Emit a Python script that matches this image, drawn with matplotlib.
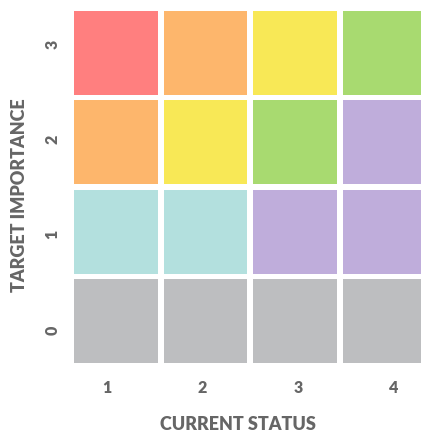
import numpy as np
import matplotlib.pyplot as plt

# status (x) vs importance (y) grid
current_status = [1, 2, 3, 4]
target_importance = [0, 1, 2, 3]

# cell colour class per row (importance 0..3), per column (status 1..4)
cell_class = [
    ['gray', 'gray', 'gray', 'gray'],
    ['teal', 'teal', 'purple', 'purple'],
    ['orange', 'yellow', 'green', 'purple'],
    ['red', 'orange', 'yellow', 'green'],
]

palette = {
    'red': '#FF7F7F',
    'orange': '#FDB66C',
    'yellow': '#F8E856',
    'green': '#A8DA70',
    'purple': '#BFADDB',
    'teal': '#B3E0DE',
    'gray': '#BDBEC0',
}

W, H = 421, 432
fig = plt.figure(figsize=(W / 100, H / 100), dpi=100)
# axes slightly wider than the figure on the right, like the original
ax = fig.add_axes([71.25 / W, (H - 365.75) / H, 358 / W, 357.5 / H])

gap = 0.062
for yi, imp in enumerate(target_importance):
    for xi, st in enumerate(current_status):
        ax.bar(st, 1 - gap, bottom=imp - 0.5 + gap / 2, width=1 - gap,
               color=palette[cell_class[yi][xi]], linewidth=0)

ax.set_xlim(0.5, 4.5)
ax.set_ylim(-0.5, 3.5)

# tick labels sit on a slightly wider band than the cells
spread = 95.5 / 89.5
xc = np.mean(current_status)
yc = np.mean(target_importance)
ax.set_xticks([xc + (v - xc) * spread for v in current_status])
ax.set_yticks([yc + (v - yc) * spread for v in target_importance])

txt_color = '#666666'
font = 'Lato'
tick_kw = dict(fontfamily=font, fontweight='heavy', fontsize=11.5, color=txt_color)
ax.set_xticklabels([str(v) for v in current_status], **tick_kw)
ax.set_yticklabels([str(v) for v in target_importance], rotation=90,
                   va='center', **tick_kw)
ax.tick_params(length=0)
ax.tick_params(axis='x', pad=10)
ax.tick_params(axis='y', pad=8)

for s in ax.spines.values():
    s.set_visible(False)

fig.text(238 / W, 1 - 425 / H, 'CURRENT STATUS', ha='center', va='center',
         fontsize=13, fontweight='heavy', color=txt_color, family=font)
fig.text(20 / W, 1 - 195 / H, 'TARGET IMPORTANCE', ha='center', va='center',
         rotation=90, fontsize=13, fontweight='heavy', color=txt_color, family=font)

fig.savefig('out.png', dpi=100)
